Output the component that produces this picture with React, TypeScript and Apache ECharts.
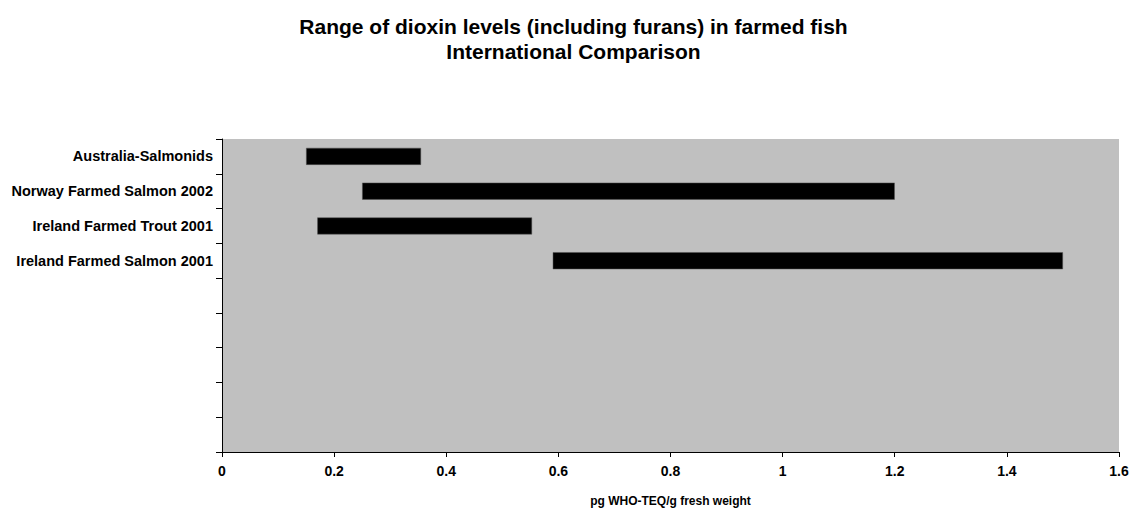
import React, { useEffect, useRef } from "react";
import * as echarts from "echarts";

const categories = [
  "Australia-Salmonids",
  "Norway Farmed Salmon 2002",
  "Ireland Farmed Trout 2001",
  "Ireland Farmed Salmon 2001",
  "",
  "",
  "",
  "",
  "",
];
const lowValues = [0.15, 0.25, 0.17, 0.59, null, null, null, null, null];
const highValues = [0.355, 1.2, 0.553, 1.5, null, null, null, null, null];
const titleText = "Range of dioxin levels (including furans) in farmed fish\nInternational Comparison";
const xAxisName = "pg WHO-TEQ/g fresh weight";

const FONT = "Liberation Sans, Arial, sans-serif";

export default function App() {
  const ref = useRef<HTMLDivElement>(null);
  useEffect(() => {
    if (!ref.current) return;
    const chart = echarts.init(ref.current, null, { renderer: "svg" });
    const rangeValues = lowValues.map((lo, i) =>
      lo == null || highValues[i] == null ? null : +((highValues[i] as number) - lo).toFixed(4)
    );
    chart.setOption({
      animation: false,
      backgroundColor: "#ffffff",
      title: {
        text: titleText,
        left: "center",
        top: 1,
        textStyle: {
          fontFamily: FONT,
          fontSize: 21,
          fontWeight: "bold",
          color: "#000",
          lineHeight: 25,
        },
      },
      grid: {
        left: 214,
        right: 20,
        top: 131,
        bottom: 56,
        show: true,
        backgroundColor: "#c0c0c0",
        borderWidth: 0,
      },
      xAxis: {
        type: "value",
        min: 0,
        max: 1.6,
        interval: 0.2,
        name: xAxisName,
        nameLocation: "middle",
        nameGap: 43,
        nameTextStyle: { fontFamily: FONT, fontSize: 12, fontWeight: "bold", color: "#000" },
        axisLine: { show: true, lineStyle: { color: "#000", width: 1 } },
        axisTick: { show: true, length: 5, lineStyle: { color: "#000" } },
        axisLabel: { fontFamily: FONT, fontSize: 14, fontWeight: "bold", color: "#000", margin: 12 },
        splitLine: { show: false },
      },
      yAxis: {
        type: "category",
        data: categories,
        inverse: true,
        boundaryGap: true,
        axisLine: { show: true, lineStyle: { color: "#000", width: 1 } },
        axisTick: { show: true, length: 6, alignWithLabel: false, interval: 0, lineStyle: { color: "#000" } },
        axisLabel: { fontFamily: FONT, fontSize: 14.5, fontWeight: "bold", color: "#000", margin: 9, interval: 0 },
        splitLine: { show: false },
      },
      series: [
        {
          type: "bar",
          stack: "range",
          data: lowValues,
          barWidth: 17,
          itemStyle: { color: "transparent" },
          silent: true,
        },
        {
          type: "bar",
          stack: "range",
          data: rangeValues,
          barWidth: 17,
          itemStyle: { color: "#000", borderColor: "#555", borderWidth: 0.5 },
        },
      ],
    });
    return () => chart.dispose();
  }, []);
  return <div ref={ref} style={{ width: 1131, height: 504 }} />;
}
